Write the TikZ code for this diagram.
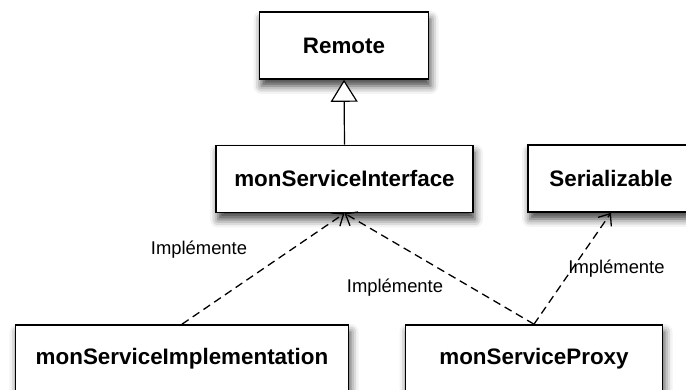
\documentclass[tikz,border=0pt]{standalone}
\usepackage{fontspec}
\setmainfont{Liberation Sans}
\usetikzlibrary{arrows.meta,shadows.blur}

\begin{document}
\begin{tikzpicture}[x=1pt,y=1pt,
  classbox/.style={draw=black, line width=1.6pt, fill=white, rectangle,
    minimum height=67pt, inner sep=0pt,
    font=\fontsize{22.4}{26}\selectfont\bfseries,
    blur shadow={shadow xshift=2pt, shadow yshift=-7pt, shadow blur radius=8pt, shadow opacity=75}},
  implements/.style={line width=1.3pt, dash pattern=on 8pt off 5pt,
    -{Straight Barb[length=10pt,width=16pt,line width=1.3pt]}},
  inherits/.style={line width=1.2pt,
    -{Triangle[open,length=22pt,width=27pt,line width=1.2pt,fill=white]}},
  lbl/.style={font=\fontsize{18.4}{22}\selectfont, inner sep=0pt}]

  \useasboundingbox (0,0) rectangle (686,390);

  % classes
  \node[classbox, minimum width=169pt] (remote) at (344,344.5) {Remote};
  \node[classbox, minimum width=257pt] (iface) at (344.5,211) {monServiceInterface};
  \node[classbox, minimum width=166pt] (serial) at (611,211.5) {Serializable};
  \node[classbox, minimum width=333pt] (impl) at (182,31.5) {monServiceImplementation};
  \node[classbox, minimum width=257pt] (proxy) at (534,31.5) {monServiceProxy};

  % generalisation
  \draw[inherits] (iface.north) -- (remote.south);

  % realisations
  \draw[implements] (impl.north) -- (iface.south);
  \draw[implements] (proxy.north) -- (iface.south);
  \draw[implements] (proxy.north) -- (serial.south);

  % labels
  \node[lbl] (l1) at (199,140.5) {Implémente};
  \node[lbl] (l2) at (395,102.5) {Implémente};
  \node[lbl] (l3) at (616.5,121.5) {Implémente};
\end{tikzpicture}
\end{document}
